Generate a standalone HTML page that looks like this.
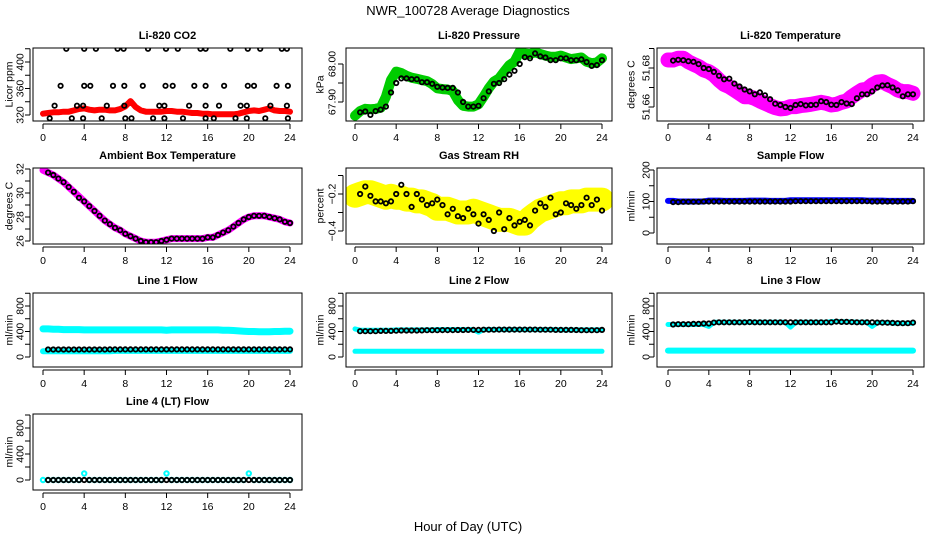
<!DOCTYPE html>
<html><head><meta charset="utf-8"><title>NWR_100728 Average Diagnostics</title>
<style>
html,body{margin:0;padding:0;background:#fff;}
svg{display:block;font-family:"Liberation Sans",Arial,sans-serif;}
</style></head>
<body>
<svg id="chart" width="936" height="540" viewBox="0 0 936 540" xmlns="http://www.w3.org/2000/svg">
<rect x="0" y="0" width="936" height="540" fill="#fff"/>
<text x="468" y="15" text-anchor="middle" font-size="13">NWR_100728  Average Diagnostics</text>
<text x="468" y="531" text-anchor="middle" font-size="13">Hour of Day (UTC)</text>
</svg>
<script>
// ---- data ----
const hours = [0,0.5,1,1.5,2,2.5,3,3.5,4,4.5,5,5.5,6,6.5,7,7.5,8,8.5,9,9.5,10,10.5,11,11.5,12,12.5,13,13.5,14,14.5,15,15.5,16,16.5,17,17.5,18,18.5,19,19.5,20,20.5,21,21.5,22,22.5,23,23.5,24];
const hoursB = [0.5,1,1.5,2,2.5,3,3.5,4,4.5,5,5.5,6,6.5,7,7.5,8,8.5,9,9.5,10,10.5,11,11.5,12,12.5,13,13.5,14,14.5,15,15.5,16,16.5,17,17.5,18,18.5,19,19.5,20,20.5,21,21.5,22,22.5,23,23.5,24];
const xTicks = [0,4,8,12,16,20,24];

const co2Red = [322,323,324,324,325,325,327,329,330,328,327,328,328,327,327,329,333,341,332,327,325,325,325,325,326,326,325,325,324,323,323,322,322,321,321,321,321,321,322,324,326,327,326,328,330,327,326,326,325];
const co2BlackT = [2.26,4.0,5.14,7.25,7.83,10.2,11.95,13.1,15.3,15.8,18.2,19.9,21.1,23.2,23.7, 1.71,4.0,4.6,6.8,7.9,9.7,11.9,12.6,14.7,15.8,17.6,19.9,20.5,22.7,23.8, 1.13,3.3,3.9,6.2,7.9,11.3,11.8,14.2,15.8,17.1,19.2,19.8,22.1,23.7, 0.65,2.8,3.9,5.7,8.0,8.6,10.7,11.8,13.6,15.8,16.6,18.7,19.8,21.6,23.8];
const co2BlackV = [420,420,420,420,420,420,420,420,420,420,420,420,420,420,420, 364,364,364,364,364,364,364,364,364,364,364,364,364,364,364, 334,334,334,334,334,334,334,334,334,334,334,334,334,334, 315,315,315,315,315,315,315,315,315,315,315,315,315,315,315];

const presGreen = [67.864,67.876,67.882,67.881,67.882,67.885,67.914,67.958,67.980,67.976,67.969,67.964,67.961,67.958,67.955,67.947,67.936,67.934,67.933,67.929,67.905,67.890,67.888,67.888,67.894,67.914,67.936,67.954,67.962,67.980,67.997,68.006,68.033,68.028,68.026,68.031,68.026,68.022,68.019,68.019,68.022,68.017,68.013,68.015,68.017,68.006,68.002,68.004,68.015];
const presBlack = [67.873,67.875,67.866,67.876,67.880,67.888,67.925,67.950,67.962,67.962,67.960,67.960,67.952,67.952,67.948,67.940,67.938,67.937,67.937,67.925,67.900,67.888,67.888,67.890,67.910,67.928,67.948,67.950,67.960,67.972,67.982,68.000,68.018,68.015,68.028,68.020,68.017,68.010,68.010,68.015,68.015,68.010,68.010,68.012,68.005,67.995,67.997,68.010];

const tempMag = [51.6841,51.6841,51.6850,51.6850,51.6832,51.6819,51.6807,51.6790,51.6781,51.6764,51.6738,51.6716,51.6704,51.6687,51.6670,51.6653,51.6653,51.6644,51.6631,51.6619,51.6607,51.6597,51.6590,51.6593,51.6602,51.6602,51.6607,51.6610,51.6614,51.6619,51.6624,51.6619,51.6610,51.6614,51.6624,51.6631,51.6653,51.6670,51.6687,51.6692,51.6713,51.6727,51.6730,51.6716,51.6704,51.6687,51.6679,51.6679,51.6670];
const tempBlack = [51.6838,51.6842,51.6840,51.6835,51.6832,51.6820,51.6800,51.6795,51.6780,51.6760,51.6742,51.6745,51.6720,51.6705,51.6690,51.6680,51.6665,51.6675,51.6660,51.6640,51.6617,51.6610,51.6600,51.6595,51.6610,51.6615,51.6608,51.6610,51.6612,51.6630,51.6625,51.6612,51.6610,51.6625,51.6618,51.6615,51.6645,51.6665,51.6665,51.6680,51.6700,51.6710,51.6712,51.6700,51.6685,51.6655,51.6665,51.6665];

const ambMag = [31.9,31.7,31.5,31.2,30.9,30.5,30.1,29.7,29.3,28.9,28.5,28.1,27.7,27.4,27.1,26.9,26.6,26.4,26.2,26.0,25.9,25.9,25.9,26.0,26.1,26.2,26.2,26.2,26.2,26.2,26.2,26.2,26.3,26.3,26.5,26.7,26.9,27.2,27.5,27.8,28.0,28.1,28.1,28.1,28.0,27.9,27.8,27.6,27.5];
const ambBlack = [31.7,31.5,31.2,30.9,30.5,30.1,29.6,29.3,28.9,28.5,28.1,27.7,27.4,27.1,26.9,26.6,26.4,26.2,26.0,25.9,25.9,25.9,26.0,26.1,26.2,26.2,26.2,26.2,26.2,26.2,26.2,26.3,26.3,26.5,26.7,26.9,27.2,27.5,27.8,28.0,28.1,28.1,28.1,28.0,27.9,27.8,27.6,27.5];

const rhYellow = [-0.21,-0.20,-0.19,-0.19,-0.20,-0.21,-0.22,-0.21,-0.22,-0.22,-0.23,-0.23,-0.24,-0.24,-0.25,-0.26,-0.28,-0.28,-0.28,-0.29,-0.30,-0.30,-0.30,-0.29,-0.30,-0.31,-0.32,-0.33,-0.34,-0.34,-0.34,-0.35,-0.36,-0.36,-0.33,-0.31,-0.29,-0.28,-0.27,-0.26,-0.25,-0.25,-0.24,-0.24,-0.24,-0.23,-0.23,-0.23,-0.23];
const rhBlack = [-0.20,-0.16,-0.21,-0.24,-0.24,-0.25,-0.24,-0.20,-0.15,-0.20,-0.27,-0.20,-0.23,-0.26,-0.25,-0.23,-0.26,-0.31,-0.28,-0.32,-0.33,-0.28,-0.31,-0.36,-0.31,-0.34,-0.40,-0.30,-0.39,-0.33,-0.37,-0.35,-0.34,-0.37,-0.29,-0.25,-0.27,-0.22,-0.31,-0.30,-0.25,-0.26,-0.28,-0.26,-0.22,-0.26,-0.23,-0.29];

const sampBlue = [102,102,100,100,100,100,100,100,103,103,103,102,102,102,102,102,103,103,103,103,102,102,102,102,104,104,104,104,104,104,104,104,104,104,104,104,104,104,104,103,103,103,103,102,102,102,102,102,102];
const sampBlack = [98,98,99,99,99,99,100,100,100,100,100,100,100,100,100,100,100,100,100,100,100,100,100,100,101,101,101,101,101,101,101,101,101,101,101,101,101,101,101,100,100,100,100,100,100,100,100,101];

const l1Upper = [440,440,435,435,430,430,430,430,425,425,425,425,425,425,425,425,425,425,425,425,425,425,425,425,420,425,425,425,425,425,425,425,425,425,425,420,420,415,410,405,400,400,395,395,395,400,400,405,405];
const l1Lower = [90,90,90,90,90,90,90,90,90,90,90,90,90,90,95,95,95,95,95,95,95,95,95,95,95,95,95,95,95,95,95,95,95,95,95,95,95,95,95,95,95,95,95,95,95,95,95,95,95];
const l1Black = [118,118,118,118,118,118,118,118,118,118,118,118,120,120,120,120,120,120,120,120,120,120,120,120,120,120,120,120,120,120,120,120,120,120,120,120,120,120,120,120,120,120,120,120,120,120,120,120];

const l2Upper = [440,420,420,420,420,420,420,420,425,425,425,425,425,425,425,425,430,430,430,430,430,430,430,430,390,430,430,430,430,430,430,430,430,430,430,430,430,430,430,430,425,425,425,425,425,425,425,425,425];
const l2Lower = [90,90,90,90,90,90,90,90,90,90,90,90,90,90,90,90,90,90,90,90,90,90,90,90,90,90,90,90,90,90,90,90,90,90,90,90,90,90,90,90,90,90,90,90,90,90,90,90,90];
const l2Black = [405,405,405,405,410,410,410,412,415,415,415,415,418,420,420,420,422,422,422,424,424,425,425,425,428,428,428,430,430,430,430,430,430,430,430,428,428,428,425,425,425,425,423,420,420,420,420,425];

const l3Upper = [510,510,510,510,510,510,510,510,480,545,545,545,545,545,545,545,545,545,545,545,545,545,545,545,470,545,545,545,545,545,545,545,555,555,555,550,550,545,545,545,480,540,540,540,530,530,530,530,530];
const l3Lower = [100,100,100,100,100,100,100,100,100,100,100,100,100,100,100,100,100,100,100,100,100,100,100,100,100,100,100,100,100,100,100,100,100,100,100,100,100,100,100,100,100,100,100,100,100,100,100,100,100];
const l3Black = [510,515,515,515,520,520,525,525,540,545,545,545,545,545,545,548,545,545,545,545,545,545,545,545,545,545,545,545,545,545,545,545,555,550,550,548,545,545,545,545,540,540,538,535,530,530,530,540];

const l4Cyan = [0,0,0,0,0,0,0,0,100,0,0,0,0,0,0,0,0,0,0,0,0,0,0,0,100,0,0,0,0,0,0,0,0,0,0,0,0,0,0,0,100,0,0,0,0,0,0,0,0];
const l4Black = [0,0,0,0,0,0,0,0,0,0,0,0,0,0,0,0,0,0,0,0,0,0,0,0,0,0,0,0,0,0,0,0,0,0,0,0,0,0,0,0,0,0,0,0,0,0,0,0];

// ---- layout ----
const NS = "http://www.w3.org/2000/svg";
const svg = document.getElementById('chart');
const cols = [
  {bx0:33, bx1:302, h0:43, h24:290, ylab:9, tlab:20},
  {bx0:346, bx1:612, h0:355, h24:602, ylab:320, tlab:332},
  {bx0:657, bx1:924, h0:668, h24:913, ylab:631, tlab:646}
];
const rows = [{by0:48, by1:121},{by0:168, by1:244},{by0:293, by1:367},{by0:414, by1:490}];

function mk(tag, attrs, parent){
  const e = document.createElementNS(NS, tag);
  for (const k in attrs) e.setAttribute(k, attrs[k]);
  (parent||svg).appendChild(e);
  return e;
}

const panels = [
  {title:'Li-820 CO2', ylabel:'Licor ppm', c:0, r:0, v1:320, p1:115, v2:400, p2:62, ticks:[320,340,360,380,400,420], labels:[320,360,400], fmt:0,
   series:[{t:hours, v:co2Red, color:'#ff0000', w:6, kind:'band'},{t:co2BlackT, v:co2BlackV, color:'#000', kind:'pts'}]},
  {title:'Li-820 Pressure', ylabel:'kPa', c:1, r:0, v1:67.90, p1:102, v2:68.00, p2:64, ticks:[67.90,67.95,68.00], labels:[67.90,68.00], fmt:2,
   series:[{t:hours, v:presGreen, color:'#00cc00', w:10, kind:'band'},{t:hoursB, v:presBlack, color:'#000', kind:'pts'}]},
  {title:'Li-820 Temperature', ylabel:'degrees C', c:2, r:0, v1:51.66, p1:107, v2:51.68, p2:68, ticks:[51.66,51.67,51.68,51.69], labels:[51.66,51.68], fmt:2,
   series:[{t:hours, v:tempMag, color:'#ff00ff', w:15, kind:'band'},{t:hoursB, v:tempBlack, color:'#000', kind:'pts'}]},
  {title:'Ambient Box Temperature', ylabel:'degrees C', c:0, r:1, v1:26, p1:241, v2:32, p2:169, ticks:[26,27,28,29,30,31,32], labels:[26,28,30,32], fmt:0,
   series:[{t:hours, v:ambMag, color:'#ff00ff', w:7, kind:'band'},{t:hoursB, v:ambBlack, color:'#000', kind:'pts'}]},
  {title:'Gas Stream RH', ylabel:'percent', c:1, r:1, v1:-0.2, p1:194, v2:-0.4, p2:231, ticks:[-0.1,-0.2,-0.3,-0.4], labels:[-0.2,-0.4], fmt:1,
   series:[{t:hours, v:rhYellow, color:'#ffff00', w:24, kind:'band'},{t:hoursB, v:rhBlack, color:'#000', kind:'pts'}]},
  {title:'Sample Flow', ylabel:'ml/min', c:2, r:1, v1:0, p1:233, v2:200, p2:170, ticks:[0,50,100,150,200], labels:[0,100,200], fmt:0,
   series:[{t:hours, v:sampBlue, color:'#0000ff', w:6, kind:'band'},{t:hoursB, v:sampBlack, color:'#000', kind:'pts'}]},
  {title:'Line 1 Flow', ylabel:'ml/min', c:0, r:2, v1:0, p1:357, v2:800, p2:306, ticks:[0,200,400,600,800,1000], labels:[0,400,800], fmt:0,
   series:[{t:hours, v:l1Upper, color:'#00ffff', w:7, kind:'band'},{t:hours, v:l1Lower, color:'#00ffff', w:6, kind:'band'},{t:hoursB, v:l1Black, color:'#000', kind:'pts'}]},
  {title:'Line 2 Flow', ylabel:'ml/min', c:1, r:2, v1:0, p1:357, v2:800, p2:306, ticks:[0,200,400,600,800,1000], labels:[0,400,800], fmt:0,
   series:[{t:hours, v:l2Upper, color:'#00ffff', w:5, kind:'band'},{t:hours, v:l2Lower, color:'#00ffff', w:5, kind:'band'},{t:hoursB, v:l2Black, color:'#000', kind:'pts'}]},
  {title:'Line 3 Flow', ylabel:'ml/min', c:2, r:2, v1:0, p1:357, v2:800, p2:306, ticks:[0,200,400,600,800,1000], labels:[0,400,800], fmt:0,
   series:[{t:hours, v:l3Upper, color:'#00ffff', w:5, kind:'band'},{t:hours, v:l3Lower, color:'#00ffff', w:6, kind:'band'},{t:hoursB, v:l3Black, color:'#000', kind:'pts'}]},
  {title:'Line 4 (LT) Flow', ylabel:'ml/min', c:0, r:3, v1:0, p1:480, v2:800, p2:428, ticks:[0,200,400,600,800,1000], labels:[0,400,800], fmt:0,
   series:[{t:hours, v:l4Cyan, color:'#00ffff', w:4, kind:'cpts'},{t:hoursB, v:l4Black, color:'#000', kind:'pts'}]}
];

panels.forEach((p, pi) => {
  const col = cols[p.c], row = rows[p.r];
  const xs = h => col.h0 + (h/24)*(col.h24-col.h0);
  const ys = v => p.p1 + (v - p.v1)*(p.p2-p.p1)/(p.v2-p.v1);
  const slug = p.title.toLowerCase().replace(/[^a-z0-9]+/g,'-').replace(/-+$/,'');
  const g = mk('g', {});
  
  
  const cid = 'clip' + pi;
  const cp = mk('clipPath', {id:cid}, g);
  mk('rect', {x:col.bx0, y:row.by0, width:col.bx1-col.bx0, height:row.by1-row.by0}, cp);

  const t = mk('text', {x:(col.bx0+col.bx1)/2, y:row.by0-9, 'text-anchor':'middle', 'font-size':11, 'font-weight':'bold'}, g);
  t.textContent = p.title;
  
  

  const dg = mk('g', {'clip-path':'url(#'+cid+')'}, g);
  p.series.forEach(s => {
    if (s.kind === 'band') {
      const pts = s.t.map((h,i) => xs(h).toFixed(1)+','+ys(s.v[i]).toFixed(1)).join(' ');
      const pl = mk('polyline', {points:pts, fill:'none', stroke:s.color, 'stroke-width':s.w, 'stroke-linejoin':'round', 'stroke-linecap':'round'}, dg);
      
      
    } else {
      s.t.forEach((h,i) => {
        const c = mk('circle', {cx:xs(h).toFixed(1), cy:ys(s.v[i]).toFixed(1), r:2.2, fill:'none', stroke:s.color, 'stroke-width':s.kind==='cpts'?2:1.8}, dg);
        
        
      });
    }
  });

  const b = mk('rect', {x:col.bx0, y:row.by0, width:col.bx1-col.bx0, height:row.by1-row.by0, fill:'none', stroke:'#000', 'stroke-width':1}, g);
  
  

  const xa = mk('g', {}, g);
  
  
  mk('line', {x1:xs(0), x2:xs(24), y1:row.by1+3, y2:row.by1+3, stroke:'#000'}, xa);
  xTicks.forEach(h => {
    mk('line', {x1:xs(h), x2:xs(h), y1:row.by1+3, y2:row.by1+8, stroke:'#000'}, xa);
    const tl = mk('text', {x:xs(h), y:row.by1+20, 'text-anchor':'middle', 'font-size':10.5}, xa);
    tl.textContent = h;
    
    
  });

  const ya = mk('g', {}, g);
  
  
  const yt = p.ticks.map(ys).filter(y => y >= row.by0-1 && y <= row.by1+1);
  mk('line', {x1:col.bx0-3, x2:col.bx0-3, y1:Math.min(...yt), y2:Math.max(...yt), stroke:'#000'}, ya);
  p.ticks.forEach(v => {
    const y = ys(v);
    if (y < row.by0-1 || y > row.by1+1) return;
    mk('line', {x1:col.bx0-8, x2:col.bx0-3, y1:y, y2:y, stroke:'#000'}, ya);
  });
  p.labels.forEach(v => {
    const y = ys(v);
    const tl = mk('text', {x:col.tlab, y:y, 'text-anchor':'middle', 'font-size':10.5, transform:'rotate(-90 '+col.tlab+' '+y+')', dy:'0.35em'}, ya);
    tl.textContent = v.toFixed(p.fmt).replace('-', '\u2212');
    
    
  });
  const cy = (row.by0+row.by1)/2;
  const yl = mk('text', {x:col.ylab, y:cy, 'text-anchor':'middle', 'font-size':10.5, transform:'rotate(-90 '+col.ylab+' '+cy+')', dy:'0.35em'}, g);
  yl.textContent = p.ylabel;
  
  
});
</script>
</body></html>
